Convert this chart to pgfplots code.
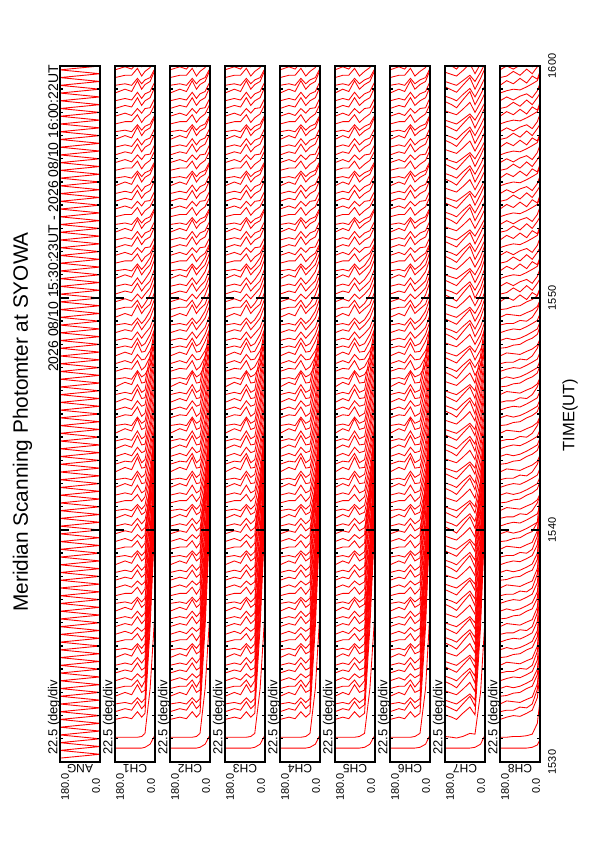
\documentclass[border=0pt]{standalone}
\usepackage{fontspec}
\setmainfont{Liberation Sans}
\usepackage{pgfplots}
\usepackage{pgfplotstable}
\pgfplotsset{compat=1.18}

% ---- CH1..CH6 traces (time axis in 20 s scan units, 15:30 = -3.5) ----
\pgfplotstableread{
id 180 135 105 79 60 45 22 0
c0 -1.7 -1.7 -1.7 -1.7 -1.7 -1.6 -1.2 0
c1 -0.3 -0.3 -0.3 -0.3 -0.2 0.2 6 16
c2 2 2.3 2.1 3 2.3 2.8 14 28
c3 3 3.4 3.2 4.3 3.4 3.9 15.5 29.5
c4 4 4.2 4 4.8 4.2 4.7 15.6 29
c5 5 5.5 5.2 6.5 5.5 5.8 17.4 31.6
c6 6 6.3 6.3 7.1 6.2 7 17.8 31.5
c7 7 7.4 7.1 7.9 7.4 7.8 19.3 33.8
c8 8 8.4 8.2 9.3 8.4 8.7 19.7 33.4
c9 9 9.3 9.1 10 9.3 9.9 21.4 35.6
c10 10 10.5 10.2 11.5 10.5 10.8 21.8 35.2
c11 11 11.2 11 11.8 11.2 11.8 23.2 37.5
c12 12 12.3 12.3 13.1 12.2 12.9 23.9 37.6
c13 13 13.4 13.1 13.9 13.4 13.8 21 29
c14 14 14.4 14.2 15.3 14.4 14.9 22.3 30.6
c15 15 15.3 15.1 16 15.3 15.8 22.8 30.8
c16 16 16.5 16.2 17.5 16.5 16.9 24.4 32.5
c17 17 17.2 17 17.8 17.2 17.7 24.9 32.8
c18 18 18.3 18.3 19.1 18.2 18.9 26.2 34.4
c19 19 19.4 19.1 19.9 19.4 19.8 26.8 34.6
c20 20 20.4 20.2 21.3 20.4 20.8 28.3 36.5
c21 21 21.3 21.1 22 21.3 21.8 28.8 36.7
c22 22 22.5 22.2 23.5 22.5 22.9 30.1 38.4
c23 23 23.2 23 23.8 23.2 23.7 30.9 38.8
c24 24 24.3 24.3 25.1 24.2 24.8 32.2 40.5
c25 25 25.4 25.1 25.9 25.4 25.9 32.8 40.6
c26 26 26.4 26.2 27.3 26.4 26.8 30 34
c27 27 27.3 27.1 28 27.3 27.8 31.1 35.1
c28 28 28.5 28.2 29.5 28.5 28.8 31.9 35.8
c29 29 29.2 29 29.8 29.2 29.7 33.1 37.1
c30 30 30.3 30.3 31.1 30.2 30.8 34 37.9
c31 31 31.3 31.1 32.3 31.3 31.6 34.9 39.1
c32 32 32.5 32.2 33.7 32.5 32.6 36.1 40
c33 33 33.2 33 34.1 33.3 33.7 37 40.9
c34 34 34.6 34.3 35.9 34.5 34.6 37.9 42.1
c35 35 35.4 35.3 36.4 35.2 35.6 39.1 43
c36 36 36.4 36.1 37.2 36.5 36.7 40 43.9
c37 37 37.5 37.2 38.7 37.5 37.6 40.9 45.1
c38 38 38.3 38.1 39.3 38.3 38.6 42.1 46
c39 39 39.6 39.3 40.9 39.5 39.7 43 46.9
c40 40 40.2 40 41.1 40.3 40.6 43.9 48.1
c41 41 41.4 41.3 42.4 41.2 41.6 45.1 49
c42 42 42.4 42.1 43.2 42.5 42.7 46 49.9
c43 43 43.5 43.2 44.7 43.5 43.6 46.9 51.1
c44 44 44.3 44.1 45.3 44.3 44.6 48.1 52
c45 45 45.6 45.3 46.9 45.5 45.6 49 52.9
c46 46 46.2 46 47.1 46.3 46.6 47.8 49.5
c47 47 47.4 47.3 48.4 47.2 47.6 48.9 50.6
c48 48 48.4 48.1 49.2 48.5 48.6 49.7 51.3
c49 49 49.5 49.2 50.7 49.5 49.6 50.9 52.6
c50 50 50.3 50.1 51.3 50.3 50.6 51.8 53.5
c51 51 51.3 51.1 52.1 51.3 51.9 52.7 54.4
c52 52 52.4 52.2 53.4 52.4 53 53.9 55.6
c53 53 53.2 53 53.9 53.2 53.7 54.8 56.5
c54 54 54.5 54.2 55.6 54.5 55.1 55.7 57.4
c55 55 55.3 55.3 56.2 55.2 55.8 56.9 58.6
c56 56 56.4 56.1 57 56.4 57 57.8 59.5
c57 57 57.4 57.2 58.4 57.4 58 58.7 60.4
c58 58 58.3 58.1 59.1 58.3 58.9 59.9 61.6
c59 59 59.5 59.2 60.6 59.5 60.1 60.8 62.5
c60 60 60.2 60 60.9 60.2 60.7 61.7 63.4
c61 61 61.3 61.3 62.2 61.2 61.8 62.3 63.6
c62 62 62.4 62.1 63 62.4 63 63.1 64.4
c63 63 63.4 63.2 64.4 63.4 64 64.4 65.8
c64 64 64.3 64.1 65.1 64.3 64.9 65.2 66.5
c65 65 65.5 65.2 66.6 65.5 66.1 66.5 68
c66 66 66.2 66 66.9 66.2 66.7 67 68.2
c67 67 67.3 67.3 68.2 67.2 67.8 68.3 69.6
c68 68 68.4 68.1 69 68.4 69 69.1 70.4
c69 69 69.4 69.2 70.4 69.4 70 70.4 71.8
c70 70 70.3 70.1 71.1 70.3 70.9 71.2 72.5
c71 71 71.5 71.2 72.6 71.5 72.1 72.5 74
c72 72 72.2 72 72.9 72.2 72.7 73 74.2
c73 73 73.3 73.3 74.2 73.2 73.8 74.3 75.6
c74 74 74.4 74.1 75 74.4 75 75.1 76.4
c75 75 75.4 75.2 76.4 75.4 76 76.4 77.8
c76 76 76.3 76.1 77.1 76.3 76.9 77.2 78.5
c77 77 77.5 77.2 78.6 77.5 78.1 78.5 80
c78 78 78.2 78 78.9 78.2 78.7 79 80.2
c79 79 79.3 79.3 80.2 79.2 79.8 80.3 81.6
c80 80 80.4 80.1 81 80.4 81 81.1 82.4
c81 81 81.4 81.2 82.4 81.4 82 82.4 83.8
c82 82 82.3 82.1 83.1 82.3 82.9 83.2 84.5
c83 83 83.5 83.2 84.6 83.5 84.1 84.5 86
c84 84 84.2 84 84.9 84.2 84.7 85 86.2
c85 85 85.3 85.3 86.2 85.2 85.8 86.3 87.6
c86 86 86.4 86.1 87 86.4 87 87.1 88.4
}\rawA
\pgfplotstabletranspose[colnames from=id,input colnames to=ang]{\tA}{\rawA}
\pgfplotstablecreatecol[create col/set list={180,136,106,80,61,45,22,0}]{angB}{\tA}
\pgfplotstablecreatecol[create col/set list={180,138,110,84,64,46,22,0}]{angC}{\tA}
\pgfplotstablecreatecol[create col/set list={180,140,112,86,64,45,21,0}]{angD}{\tA}
\pgfplotstablecreatecol[create col/set list={180,145,118,92,70,47,23,0}]{angE}{\tA}
\pgfplotstablecreatecol[create col/set list={180,140,114,88,68,45,20,0}]{angF}{\tA}

% ---- CH7 traces ----
\pgfplotstableread{
id 180 150 128 100 68 45 20 0
c0 -1.7 -1.7 -1.7 -1.7 -1.7 -1.6 -1.2 0
c1 -0.2 -0.3 -0.4 -0.2 0.2 0.1 5.5 15
c2 2.6 2.3 2 2.8 3.6 2.6 14 28.2
c3 3.8 3.4 3.1 4 5 3.7 15.4 29.6
c4 4.5 4.2 4 4.6 5.3 4.5 15.8 29.2
c5 5.7 5.4 5.2 5.9 6.8 5.6 17.3 31.4
c6 6.9 6.5 6.1 7.1 8.2 6.7 17.9 31.8
c7 7.6 7.3 7 7.8 8.6 7.6 19.2 33.6
c8 8.8 8.4 8.1 9 10 8.7 19.8 33.5
c9 9.5 9.2 9 9.6 10.3 9.5 21.3 35.4
c10 10.7 10.4 10.2 10.9 11.8 10.6 21.9 35.6
c11 11.9 11.5 11.1 12.1 13.2 11.7 23.1 37.3
c12 12.6 12.3 12 12.8 13.6 12.6 23.8 37.8
c13 13.8 13.4 13.1 14 15 13.7 21.1 29.2
c14 14.5 14.2 14 14.6 15.3 14.5 22.2 30.4
c15 15.7 15.4 15.2 15.9 16.8 15.6 22.9 31
c16 16.9 16.5 16.1 17.1 18.2 16.7 24.3 32.4
c17 17.6 17.3 17 17.8 18.6 17.6 25 33
c18 18.8 18.4 18.1 19 20 18.7 26.1 34.3
c19 19.5 19.2 19 19.6 20.3 19.5 26.9 34.8
c20 20.7 20.4 20.2 20.9 21.8 20.6 28.2 36.3
c21 21.9 21.5 21.1 22.1 23.2 21.7 28.9 36.9
c22 22.6 22.3 22 22.8 23.6 22.6 30 38.2
c23 23.8 23.4 23.1 24 25 23.7 31 39
c24 24.5 24.2 24 24.6 25.3 24.5 32.1 40.3
c25 25.7 25.4 25.2 25.9 26.8 25.6 32.9 40.8
c26 26.9 26.5 26.1 27.1 28.2 26.7 30.1 34.1
c27 27.6 27.3 27 27.8 28.6 27.6 31 35
c28 28.8 28.4 28.1 29 30 28.7 32 35.9
c29 29.5 29.2 29 29.6 30.3 29.5 33 37
c30 30.7 30.4 30.2 30.9 31.8 30.6 34.1 38.1
c31 31.9 31.5 31.1 32.1 33.2 31.7 35 39
c32 32.6 32.3 32 32.8 33.6 32.6 36 39.9
c33 33.8 33.4 33.1 34 35 33.7 37.1 41
c34 34.5 34.2 34 34.6 35.3 34.5 38 42
c35 35.7 35.4 35.2 35.9 36.8 35.6 39 42.9
c36 36.9 36.5 36.1 37.1 38.2 36.7 40.1 44.1
c37 37.6 37.3 37 37.8 38.6 37.6 41 45
c38 38.8 38.4 38.1 39 40 38.7 42 45.9
c39 39.5 39.2 39 39.6 40.3 39.5 43.1 47
c40 40.7 40.4 40.2 40.9 41.8 40.6 44 48
c41 41.9 41.5 41.1 42.1 43.2 41.5 45 48.9
c42 42.6 42.3 42 42.8 43.6 42.5 46.1 50.1
c43 43.8 43.4 43.1 44 45 43.5 47 51
c44 44.5 44.2 44 44.6 45.3 44.5 48 51.9
c45 45.7 45.4 45.2 45.9 46.8 45.5 49.1 53.1
c46 46.9 46.5 46.1 47.1 48.2 46.5 47.9 49.6
c47 47.6 47.3 47 47.8 48.6 47.5 48.8 50.5
c48 48.8 48.4 48.1 49 50 48.5 49.8 51.4
c49 49.5 49.2 49 49.6 50.3 49.5 50.9 52.6
c50 50.7 50.4 50.2 50.9 51.8 50.5 51.8 53.5
c51 51.9 51.5 51.1 52.1 53.2 51.5 52.8 54.4
c52 52.6 52.3 52 52.8 53.6 52.5 53.9 55.6
c53 53.8 53.4 53.1 54 55 53.5 54.8 56.5
c54 54.5 54.2 54 54.6 55.3 54.5 55.8 57.4
c55 55.7 55.4 55.2 55.9 56.8 55.5 56.9 58.6
c56 56.9 56.5 56.1 57.1 58.2 56.5 57.8 59.5
c57 57.6 57.3 57 57.8 58.6 57.5 58.8 60.4
c58 58.8 58.4 58.1 59 60 58.5 59.9 61.6
c59 59.5 59.2 59 59.6 60.3 59.5 60.8 62.5
c60 60.7 60.4 60.2 60.9 61.8 60.5 61.8 63.4
c61 61.9 61.5 61.1 62.1 63.2 61.5 62.8 64
c62 62.6 62.3 62 62.8 63.6 62.5 63.8 65
c63 63.8 63.4 63.1 64 65 63.5 64.9 66.2
c64 64.5 64.2 64 64.6 65.3 64.5 65.7 66.8
c65 65.7 65.4 65.2 65.9 66.8 65.5 66.8 68
c66 66.9 66.5 66.1 67.1 68.2 66.5 67.8 69
c67 67.6 67.3 67 67.8 68.6 67.5 68.8 70
c68 68.8 68.4 68.1 69 70 68.5 69.9 71.2
c69 69.5 69.2 69 69.6 70.3 69.5 70.7 71.8
c70 70.7 70.4 70.2 70.9 71.8 70.5 71.8 73
c71 71.9 71.5 71.1 72.1 73.2 71.5 72.8 74
c72 72.6 72.3 72 72.8 73.6 72.5 73.8 75
c73 73.8 73.4 73.1 74 75 73.5 74.9 76.2
c74 74.5 74.2 74 74.6 75.3 74.5 75.7 76.8
c75 75.7 75.4 75.2 75.9 76.8 75.5 76.8 78
c76 76.9 76.5 76.1 77.1 78.2 76.5 77.8 79
c77 77.6 77.3 77 77.8 78.6 77.5 78.8 80
c78 78.8 78.4 78.1 79 80 78.5 79.9 81.2
c79 79.5 79.2 79 79.6 80.3 79.5 80.7 81.8
c80 80.7 80.4 80.2 80.9 81.8 80.5 81.8 83
c81 81.9 81.5 81.1 82.1 83.2 81.5 82.8 84
c82 82.6 82.3 82 82.8 83.6 82.5 83.8 85
c83 83.8 83.4 83.1 84 85 83.5 84.9 86.2
c84 84.5 84.2 84 84.6 85.3 84.5 85.7 86.8
c85 85.7 85.4 85.2 85.9 86.8 85.5 86.8 88
c86 86.9 86.5 86.1 87.1 88.2 86.5 87.8 89
}\rawG
\pgfplotstabletranspose[colnames from=id,input colnames to=ang]{\tG}{\rawG}

% ---- CH8 traces ----
\pgfplotstableread{
id 180 150 120 90 60 35 12 0
c0 -1.7 -1.7 -1.7 -1.7 -1.7 -1.6 -1.3 -0.6
c1 -0.3 -0.3 -0.2 -0.2 -0.1 0.1 1.5 4.5
c2 2 2.3 2.5 2.4 2.8 3.2 4.8 8
c3 3 3.2 3.2 3.6 3.5 4 5.9 9.5
c4 4 4.4 4.3 4.2 4.6 4.9 6.6 10
c5 5 5.1 5.4 5.5 6 6.3 7.8 11.2
c6 6 6.3 6.1 6.3 6.7 7.1 8.5 12
c7 7 7.3 7.5 7.4 7.8 8.2 9.7 13.5
c8 8 8.2 8.2 8.6 8.5 9 10.8 14.6
c9 9 9.4 9.3 9.2 9.6 9.9 11.5 15.2
c10 10 10.1 10.4 10.5 11 11.3 12.7 16.6
c11 11 11.3 11.1 11.3 11.7 12.1 13.5 17.3
c12 12 12.3 12.5 12.4 12.8 13.2 14.7 18.4
c13 13 13.2 13.2 13.6 13.5 14 15.8 19.8
c14 14 14.4 14.3 14.2 14.6 14.9 16.5 20.2
c15 15 15.1 15.4 15.5 16 16.3 17.7 21.6
c16 16 16.3 16.1 16.3 16.7 17.1 18.5 22.3
c17 17 17.3 17.5 17.4 17.8 18.2 19.7 23.5
c18 18 18.2 18.2 18.6 18.5 19 20.8 24.8
c19 19 19.4 19.3 19.2 19.6 19.9 21.5 25.2
c20 20 20.1 20.4 20.5 21 21.3 22.7 26.6
c21 21 21.3 21.1 21.3 21.7 22.1 23.5 27.3
c22 22 22.3 22.5 22.4 22.8 23.2 24.6 28.2
c23 23 23.2 23.2 23.6 23.5 24 25.7 29.5
c24 24 24.4 24.3 24.2 24.6 24.9 26.4 30
c25 25 25.1 25.4 25.5 26 26.3 27.5 31.3
c26 26 26.3 26.1 26.3 26.7 27.1 27.5 28.4
c27 27 27.3 27.5 27.4 27.8 28.2 28.6 29.5
c28 28 28.2 28.2 28.6 28.5 29 30 31
c29 29 29.4 29.3 29.2 29.6 29.9 30.4 31.2
c30 30 30.1 30.4 30.5 31 31.3 31.8 32.8
c31 31 31.3 31.1 31.3 31.7 32.1 32.5 33.4
c32 32 32.3 32.5 32.4 32.8 33.2 33.6 34.5
c33 33 33.2 33.2 33.6 33.5 34 35 36
c34 34 34.4 34.3 34.2 34.6 34.9 35.4 36.2
c35 35 35.1 35.4 35.5 36 36.3 36.8 37.8
c36 36 36.3 36.1 36.3 36.7 37.1 37.5 38.4
c37 37 37.3 37.5 37.4 37.8 38.2 38.6 39.5
c38 38 38.2 38.2 38.6 38.5 39 40 41
c39 39 39.4 39.3 39.2 39.6 39.9 40.4 41.2
c40 40 40.1 40.4 40.5 41 41.3 41.8 42.8
c41 41 41.3 41.1 41.3 41.7 42.1 42.5 43.4
c42 42 42.3 42.5 42.4 42.8 43.2 43.6 44.5
c43 43 43.2 43.2 43.6 43.5 44 45 46
c44 44 44.4 44.3 44.2 44.6 44.9 45.4 46.2
c45 45 45.1 45.4 45.5 46 46.3 46.8 47.8
c46 46 46.3 46.1 46.3 46.7 47.1 47.5 48.4
c47 47 47.3 47.5 47.4 47.8 48.2 48.6 49.5
c48 48 48.2 48.2 48.6 48.5 49 50 51
c49 49 49.4 49.3 49.2 49.6 49.9 50.4 51.2
c50 50 50.1 50.4 50.5 51 51.3 51.8 52.8
c51 51 51.3 51.1 51.3 51.7 52.1 52.5 53.4
c52 52 52.3 52.5 52.4 52.8 53.2 53.6 54.5
c53 53 53.2 53.2 53.6 53.5 54 55 56
c54 54 54.4 54.3 54.2 54.6 54.9 55.4 56.2
c55 55 55.1 55.4 55.5 56 56.3 56.8 57.8
c56 56 56.6 56.2 56.9 56.3 57.2 56.8 57.8
c57 57 57.2 57.8 57.3 58.1 57.5 58.4 59
c58 58 58.5 58.1 58.6 58.9 58.4 59.3 60.3
c59 59 59.3 59.5 59.4 59.8 60.2 60.6 61.5
c60 60 60.6 60.2 60.9 60.3 61.2 60.8 61.8
c61 61 61.2 61.8 61.3 62.1 61.5 62.4 63
c62 62 62.5 62.1 62.6 62.9 62.4 63.3 64.3
c63 63 63.3 63.5 63.4 63.8 64.2 64.6 65.5
c64 64 64.6 64.2 64.9 64.3 65.2 64.8 65.8
c65 65 65.2 65.8 65.3 66.1 65.5 66.4 67
c66 66 66.5 66.1 66.6 66.9 66.4 67.3 68.3
c67 67 67.3 67.5 67.4 67.8 68.2 68.6 69.5
c68 68 68.6 68.2 68.9 68.3 69.2 68.8 69.8
c69 69 69.2 69.8 69.3 70.1 69.5 70.4 71
c70 70 70.5 70.1 70.6 70.9 70.4 71.3 72.3
c71 71 71.3 71.5 71.4 71.8 72.2 72.6 73.5
c72 72 72.6 72.2 72.9 72.3 73.2 72.8 73.8
c73 73 73.2 73.8 73.3 74.1 73.5 74.4 75
c74 74 74.5 74.1 74.6 74.9 74.4 75.3 76.3
c75 75 75.3 75.5 75.4 75.8 76.2 76.6 77.5
c76 76 76.6 76.2 76.9 76.3 77.2 76.8 77.8
c77 77 77.2 77.8 77.3 78.1 77.5 78.4 79
c78 78 78.5 78.1 78.6 78.9 78.4 79.3 80.3
c79 79 79.3 79.5 79.4 79.8 80.2 80.6 81.5
c80 80 80.6 80.2 80.9 80.3 81.2 80.8 81.8
c81 81 81.2 81.8 81.3 82.1 81.5 82.4 83
c82 82 82.5 82.1 82.6 82.9 82.4 83.3 84.3
c83 83 83.3 83.5 83.4 83.8 84.2 84.6 85.5
c84 84 84.6 84.2 84.9 84.3 85.2 84.8 85.8
c85 85 85.2 85.8 85.3 86.1 85.5 86.4 87
c86 86 86.5 86.1 86.6 86.9 86.4 87.3 88.3
}\rawH
\pgfplotstabletranspose[colnames from=id,input colnames to=ang]{\tH}{\rawH}

\tikzset{trace/.style={red, line width=0.85pt}}
\pgfplotsset{
  panel/.style={
    scale only axis, width=40pt, height=696pt, anchor=south west,
    xmin=0, xmax=180, x dir=reverse, ymin=-3.5, ymax=86.5,
    axis on top, clip=true,
    axis line style={black, line width=1.8pt},
    xtick=\empty, minor xtick={22.5,45,67.5,90,112.5,135,157.5},
    ytick={26.5,56.5}, yticklabels={}, minor ytick={-0.5,2.5,...,83.5},
    tick align=inside, major tick length=9pt, minor tick length=3pt,
    tick style={black, line width=1.4pt},
  },
}

\begin{document}
\begin{tikzpicture}[x=1pt,y=1pt]
\path (0,0) rectangle (595,842);

% ANG panel: mirror scan angle
\begin{axis}[panel, at={(60pt,80pt)}]
\addplot[red, line width=0.9pt] coordinates {
(180,-3) (0,-2.5) (180,-2) (0,-1.5) (180,-1) (0,-0.5) (180,0) (0,0.5)
(180,1) (0,1.5) (180,2) (0,2.5) (180,3) (0,3.5) (180,4) (0,4.5)
(180,5) (0,5.5) (180,6) (0,6.5) (180,7) (0,7.5) (180,8) (0,8.5)
(180,9) (0,9.5) (180,10) (0,10.5) (180,11) (0,11.5) (180,12) (0,12.5)
(180,13) (0,13.5) (180,14) (0,14.5) (180,15) (0,15.5) (180,16) (0,16.5)
(180,17) (0,17.5) (180,18) (0,18.5) (180,19) (0,19.5) (180,20) (0,20.5)
(180,21) (0,21.5) (180,22) (0,22.5) (180,23) (0,23.5) (180,24) (0,24.5)
(180,25) (0,25.5) (180,26) (0,26.5) (180,27) (0,27.5) (180,28) (0,28.5)
(180,29) (0,29.5) (180,30) (0,30.5) (180,31) (0,31.5) (180,32) (0,32.5)
(180,33) (0,33.5) (180,34) (0,34.5) (180,35) (0,35.5) (180,36) (0,36.5)
(180,37) (0,37.5) (180,38) (0,38.5) (180,39) (0,39.5) (180,40) (0,40.5)
(180,41) (0,41.5) (180,42) (0,42.5) (180,43) (0,43.5) (180,44) (0,44.5)
(180,45) (0,45.5) (180,46) (0,46.5) (180,47) (0,47.5) (180,48) (0,48.5)
(180,49) (0,49.5) (180,50) (0,50.5) (180,51) (0,51.5) (180,52) (0,52.5)
(180,53) (0,53.5) (180,54) (0,54.5) (180,55) (0,55.5) (180,56) (0,56.5)
(180,57) (0,57.5) (180,58) (0,58.5) (180,59) (0,59.5) (180,60) (0,60.5)
(180,61) (0,61.5) (180,62) (0,62.5) (180,63) (0,63.5) (180,64) (0,64.5)
(180,65) (0,65.5) (180,66) (0,66.5) (180,67) (0,67.5) (180,68) (0,68.5)
(180,69) (0,69.5) (180,70) (0,70.5) (180,71) (0,71.5) (180,72) (0,72.5)
(180,73) (0,73.5) (180,74) (0,74.5) (180,75) (0,75.5) (180,76) (0,76.5)
(180,77) (0,77.5) (180,78) (0,78.5) (180,79) (0,79.5) (180,80) (0,80.5)
(180,81) (0,81.5) (180,82) (0,82.5) (180,83) (0,83.5) (180,84) (0,84.5)
(180,85) (0,85.5) (180,86) (0,86.5)
};
\end{axis}

\begin{axis}[panel, at={(115pt,80pt)}]
\pgfplotsinvokeforeach{0,...,86}{\addplot[trace] table[x=ang,y=c#1]{\tA};}
\end{axis}
\begin{axis}[panel, at={(170pt,80pt)}]
\pgfplotsinvokeforeach{0,...,86}{\addplot[trace] table[x=angB,y=c#1]{\tA};}
\end{axis}
\begin{axis}[panel, at={(225pt,80pt)}]
\pgfplotsinvokeforeach{0,...,86}{\addplot[trace] table[x=angC,y=c#1]{\tA};}
\end{axis}
\begin{axis}[panel, at={(280pt,80pt)}]
\pgfplotsinvokeforeach{0,...,86}{\addplot[trace] table[x=angD,y=c#1]{\tA};}
\end{axis}
\begin{axis}[panel, at={(335pt,80pt)}]
\pgfplotsinvokeforeach{0,...,86}{\addplot[trace] table[x=angE,y=c#1]{\tA};}
\end{axis}
\begin{axis}[panel, at={(390pt,80pt)}]
\pgfplotsinvokeforeach{0,...,86}{\addplot[trace] table[x=angF,y=c#1]{\tA};}
\end{axis}
\begin{axis}[panel, at={(445pt,80pt)}]
\pgfplotsinvokeforeach{0,...,86}{\addplot[trace] table[x=ang,y=c#1]{\tG};}
\end{axis}
\begin{axis}[panel, at={(500pt,80pt)}]
\pgfplotsinvokeforeach{0,...,86}{\addplot[trace] table[x=ang,y=c#1]{\tH};}
\end{axis}

% texts
\node[rotate=90, inner sep=0, font=\fontsize{20.8}{24}\selectfont] at (22.5,420) {Meridian Scanning Photomter at SYOWA};
\node[rotate=90, anchor=east, inner sep=0, font=\fontsize{14}{16}\selectfont] at (53,777) {2026 08/10 15:30:23UT - 2026 08/10 16:00:22UT};
\node[rotate=90, inner sep=0, font=\fontsize{16.5}{19}\selectfont] at (570,427) {TIME(UT)};
\foreach \yy/\tt in {80/1530,312/1540,544/1550,776/1600}
  \node[rotate=90, inner sep=0, font=\fontsize{11}{13}\selectfont] at (552,\yy) {\tt};
\foreach \L/\nm in {60/ANG,115/CH1,170/CH2,225/CH3,280/CH4,335/CH5,390/CH6,445/CH7,500/CH8}{
  \node[rotate=90, anchor=west, inner sep=0, font=\fontsize{13}{15}\selectfont] at (\L-6,87) {22.5 (deg/div};
  \node[rotate=90, anchor=east, inner sep=0, font=\fontsize{11}{13}\selectfont] at (\L+5,69) {180.0};
  \node[rotate=90, anchor=east, inner sep=0, font=\fontsize{11}{13}\selectfont] at (\L+36,64) {0.0};
  \node[rotate=180, inner sep=0, font=\fontsize{12}{14}\selectfont] at (\L+20,73) {\nm};
}
\pgfresetboundingbox
\useasboundingbox (0,0) rectangle (595,842);
\end{tikzpicture}
\end{document}
